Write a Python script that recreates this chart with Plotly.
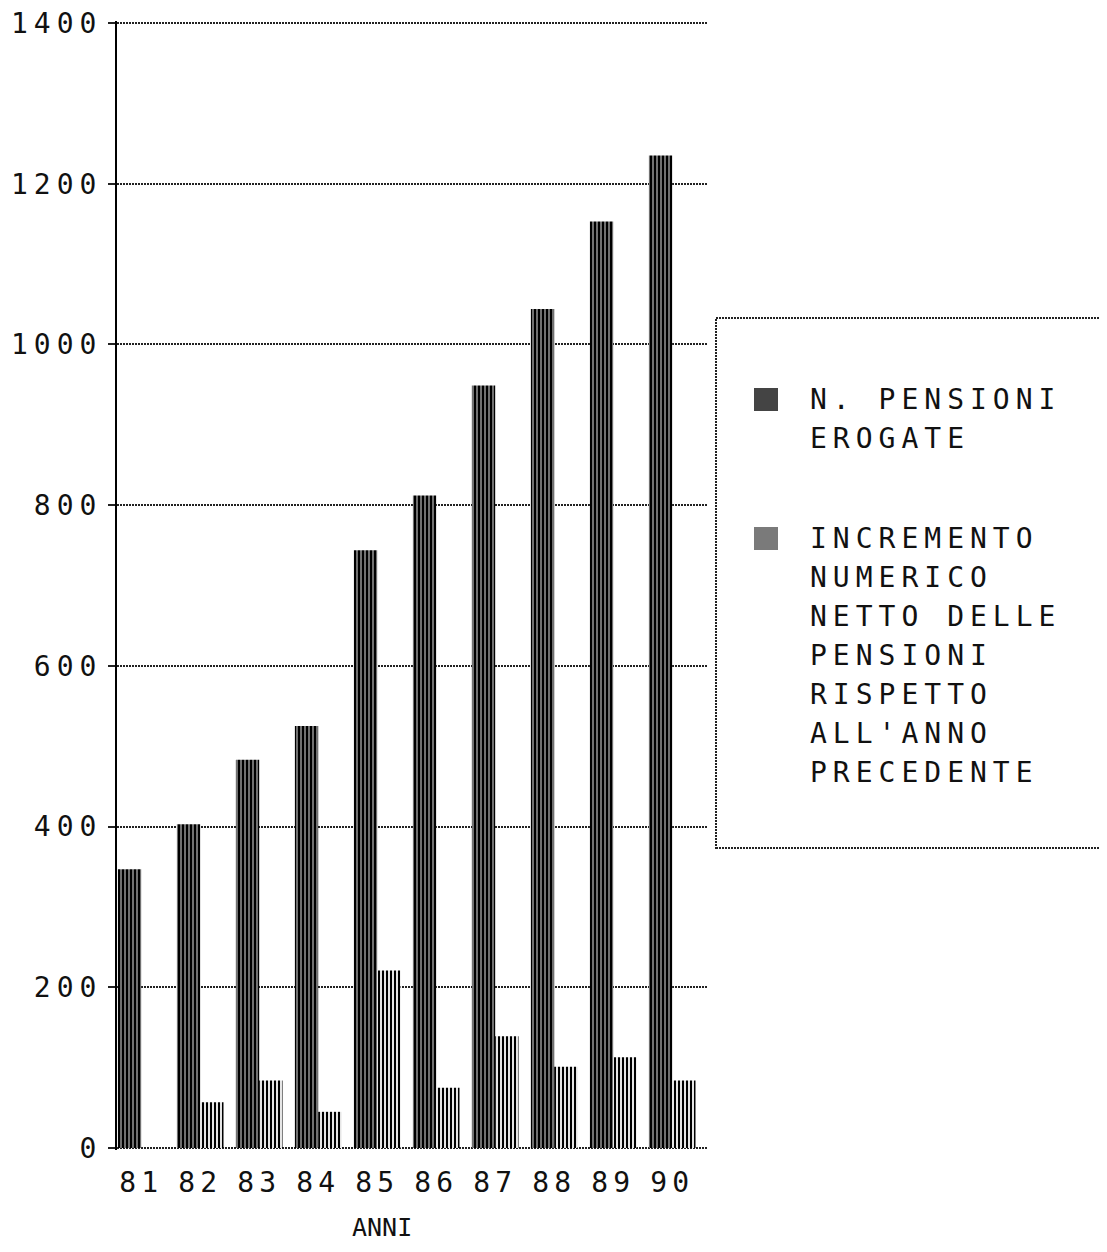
import plotly.graph_objects as go

# ---- data ----
years = ["81", "82", "83", "84", "85", "86", "87", "88", "89", "90"]
pensioni = [347, 403, 483, 525, 744, 812, 949, 1044, 1153, 1235]
incremento = [0, 57, 84, 45, 221, 75, 139, 101, 113, 84]
y_ticks = [0, 200, 400, 600, 800, 1000, 1200, 1400]
legend_pensioni = ["N. PENSIONI", "EROGATE"]
legend_incremento = ["INCREMENTO", "NUMERICO", "NETTO DELLE", "PENSIONI",
                     "RISPETTO", "ALL'ANNO", "PRECEDENTE"]
x_title = "ANNI"

# ---- geometry (screen pixels; page body has an 8px margin) ----
W, H = 1107, 1252
BODY = 8
L, R, T, B = 117, 707, 21, 1150
Y_RANGE = [-2.5, 1402.5]
FONT = "DejaVu Sans Mono"
INK = "#111"


def px_x(px):
    return (px - L) / (R - L)


def px_y(py):
    return (B - py) / (B - T)


def spaced(s, sp=5):
    return f'<span style="letter-spacing:{sp}px">{s}</span>'


idx = list(range(len(years)))
off = 0.41
bounds = [i - off for i in range(len(years) + 1)]
xr = [-off, len(years) - off]

fig = go.Figure()
fig.add_trace(go.Bar(
    x=idx, y=pensioni, name=" ".join(legend_pensioni),
    marker=dict(color="#000", line=dict(width=0),
                pattern=dict(shape="|", fgcolor="#000", bgcolor="#fff",
                             size=4, solidity=0.78, fillmode="replace")),
))
fig.add_trace(go.Bar(
    x=idx, y=incremento, name=" ".join(legend_incremento),
    marker=dict(color="#000", line=dict(width=0),
                pattern=dict(shape="|", fgcolor="#000", bgcolor="#fff",
                             size=4, solidity=0.55, fillmode="replace")),
))

tick_marks = dict(range=xr, tickmode="array", tickvals=bounds,
                  tickwidth=2, tickcolor="#000", showticklabels=False,
                  showline=False, showgrid=False, zeroline=False,
                  automargin=False, overlaying="x", anchor="y",
                  side="bottom")

fig.update_layout(
    width=W - 2 * BODY, height=H - 2 * BODY,
    margin=dict(l=L - BODY, r=W - BODY - R, t=T - BODY, b=H - BODY - B,
                autoexpand=False),
    paper_bgcolor="white", plot_bgcolor="white",
    barmode="group", bargap=0.21, bargroupgap=0,
    showlegend=False,
    font=dict(family=FONT, color=INK, size=28),
    xaxis=dict(range=xr, tickmode="array", tickvals=idx,
               ticktext=[spaced(y) for y in years], ticks="",
               showline=False, showgrid=False, zeroline=False,
               automargin=False,
               ticklabelstandoff=13, ticklabeloverflow="allow",
               tickfont=dict(family=FONT, size=28, color=INK)),
    xaxis2=dict(ticks="outside", ticklen=9, **tick_marks),
    xaxis3=dict(ticks="inside", ticklen=8, **tick_marks),
    yaxis=dict(range=Y_RANGE, tickmode="array", tickvals=y_ticks,
               ticktext=[spaced(str(v), 6) for v in y_ticks],
               ticks="outside", ticklen=7, tickwidth=2, tickcolor="#222",
               showline=True, linewidth=2, linecolor="#000",
               showgrid=True, gridcolor="#222", gridwidth=2,
               griddash="2px,1px", zeroline=False, automargin=False,
               ticklabelstandoff=0, ticklabeloverflow="allow",
               tickfont=dict(family=FONT, size=28, color=INK)),
)

# x-axis title
fig.add_annotation(text=x_title, xref="paper", yref="paper",
                   x=px_x(382), y=px_y(1227), xanchor="center",
                   yanchor="middle", showarrow=False,
                   font=dict(family=FONT, size=25, color=INK))

# legend box
fig.add_shape(type="rect", xref="paper", yref="paper",
              x0=px_x(716), x1=px_x(1112), y0=px_y(848), y1=px_y(318),
              line=dict(color="#222", width=2, dash="2px,1px"),
              fillcolor="rgba(0,0,0,0)")

# legend swatches and text
groups = [(legend_pensioni, "#444", 399, 388),
          (legend_incremento, "#7a7a7a", 538, 527)]
pitch = 39
for lines, col, y_first, sw_top in groups:
    fig.add_shape(type="rect", xref="paper", yref="paper",
                  x0=px_x(754), x1=px_x(778),
                  y0=px_y(sw_top + 23), y1=px_y(sw_top),
                  line=dict(width=0), fillcolor=col)
    for k, txt in enumerate(lines):
        fig.add_annotation(text=spaced(txt, 6), xref="paper", yref="paper",
                           x=px_x(808), y=px_y(y_first + k * pitch),
                           xanchor="left", yanchor="middle",
                           showarrow=False,
                           font=dict(family=FONT, size=28, color=INK))

fig.write_html("out.html")
